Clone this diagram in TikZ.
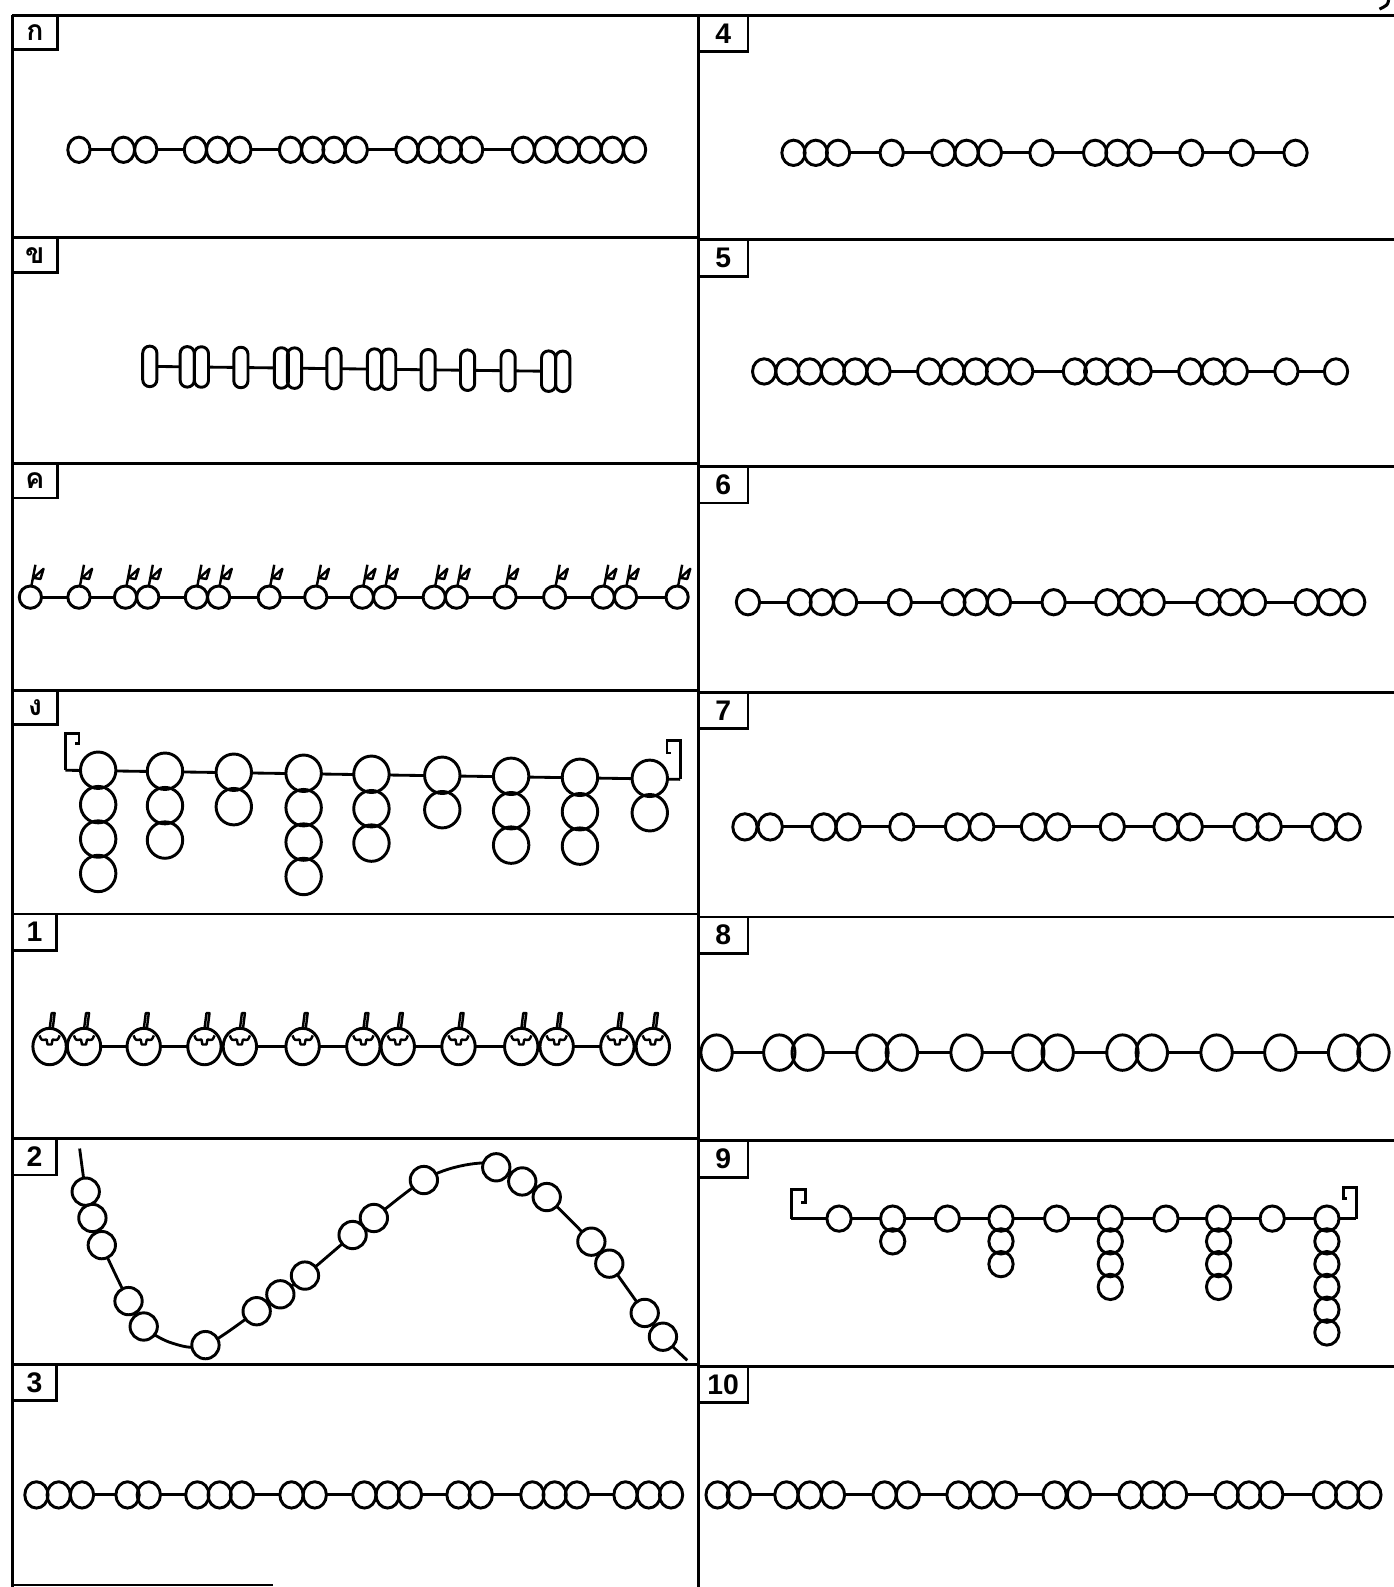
\documentclass[tikz,border=0pt]{standalone}
\usepackage{fontspec}
\setmainfont{Liberation Sans}
\newfontfamily\thaifont[Script=Thai]{Loma}
\newcommand\BeadRow[6]{%
  \draw[strng] (#4,#1) -- (#5,#1);
  \foreach \bx in {#6} {\fill[white] (\bx,#1) ellipse [x radius=#2, y radius=#3];}
  \foreach \bx in {#6} {\draw[beadline] (\bx,#1) ellipse [x radius=#2, y radius=#3];}
}
\begin{document}
\begin{tikzpicture}[x=0.5pt,y=-0.5pt,
  frame/.style={line width=1.4pt},
  strng/.style={line width=1.4pt},
  beadline/.style={line width=1.45pt},
  stemline/.style={line width=1.2pt, line join=round},
  numlab/.style={font=\bfseries\fontsize{14}{14}\selectfont, inner sep=0pt},
  thailab/.style={font=\thaifont\bfseries\fontsize{14}{14}\selectfont, inner sep=0pt}]
\useasboundingbox (0,0) rectangle (1377,1568);
% ---------- frame ----------
\draw[frame] (12,15) -- (1377,15);
\draw[frame] (12,15) -- (12,1568);
\draw[frame] (690,15) -- (690,1568);
\foreach \yy in {235,458,682,903,1125,1348} \draw[frame] (12,\yy) -- (690,\yy);
\foreach \yy in {237,461,684,906,1127,1350} \draw[frame] (690,\yy) -- (1377,\yy);
\draw[line width=0.8pt] (12,1566) -- (270,1566);
\draw[line width=1.5pt] (1372,0) .. controls (1371,5) .. (1363,9);
% ---------- labels ----------
\foreach \yy/\tx/\nm in {15/ก/a, 235/ข/b, 458/ค/c, 682/ง/d} {
  \draw[frame] (12,\yy+34) -- (57,\yy+34) -- (57,\yy);
  \node[thailab] (lab\nm) at (34.5,\yy+17) {\tx};
}
\foreach \yy/\tx in {903/1, 1125/2, 1348/3} {
  \draw[frame] (12,\yy+36) -- (56,\yy+36) -- (56,\yy);
  \node[numlab] (labn\tx) at (34,\yy+18) {\tx};
}
\foreach \yy/\tx in {15/4, 237/5, 461/6, 684/7, 906/8, 1127/9, 1350/10} {
  \draw[frame] (690,\yy+36) -- (739,\yy+36) -- (739,\yy);
  \node[numlab] (labn\tx) at (714.5,\yy+18) {\tx};
}
% ---------- simple bead rows ----------
\BeadRow{148}{11}{12.5}{78}{627}{78,122,144,193,215,237,287,309,330,352,402,424,445,466,517,539,561,583,605,627}
\BeadRow{151}{11.5}{12.5}{784}{1280}{784,806,828,881,932,955,978,1029,1082,1104,1126,1177,1227,1280}
\BeadRow{367}{11.5}{12.5}{755}{1320}{755,778,800,823,845,868,918,941,964,986,1009,1062,1083,1105,1126,1176,1199,1221,1271,1320}
\BeadRow{595}{11.5}{12.5}{739}{1337}{739,790,812,835,889,942,964,987,1041,1094,1117,1139,1194,1216,1239,1291,1314,1337}
\BeadRow{817}{12}{13}{736}{1332}{736,761,814,838,891,946,970,1021,1045,1099,1152,1176,1231,1254,1308,1332}
\BeadRow{1040}{15.5}{17.5}{708}{1357}{708,770,798,862,891,955,1016,1045,1109,1138,1202,1265,1328,1357}
\BeadRow{1477}{11.5}{13}{36}{663}{36,58,81,126,147,195,217,239,288,311,360,383,405,453,475,526,548,570,618,641,663}
\BeadRow{1477}{11.5}{13}{709}{1353}{709,730,777,800,823,874,897,947,970,993,1042,1066,1117,1139,1161,1212,1234,1256,1309,1331,1353}
% ---------- row kho: capsules ----------
\draw[strng] (148,362) -- (556,367);
\foreach \bx in {148,185,199,238,278,291,330,370,384,423,462,502,542,556} {
  \pgfmathsetmacro\cy{362+(\bx-148)*0.012}
  \fill[white, rounded corners=3.4pt] (\bx-7,\cy-20) rectangle (\bx+7,\cy+20);
}
\foreach \bx in {148,185,199,238,278,291,330,370,384,423,462,502,542,556} {
  \pgfmathsetmacro\cy{362+(\bx-148)*0.012}
  \draw[beadline, rounded corners=3.4pt] (\bx-7,\cy-20) rectangle (\bx+7,\cy+20);
}
% ---------- row kho-khwai: fruits with stem and leaf ----------
\draw[strng] (30,590) -- (669,590);
\foreach \bx in {30,78,124,146,194,216,266,312,358,380,429,451,499,548,596,618,669}
  {\fill[white] (\bx,590) circle [radius=11];}
\foreach \bx in {30,78,124,146,194,216,266,312,358,380,429,451,499,548,596,618,669} {
  \draw[beadline] (\bx,590) circle [radius=11];
  \draw[stemline] (\bx+1,579) -- (\bx+5,558);
  \draw[stemline] (\bx+3,571) -- (\bx+13,562) -- (\bx+10,572) -- cycle;
}
% ---------- row ngo: hanging strands ----------
\draw[strng] (64.5,761) -- (672,770);
\draw[strng] (64.5,761) -- (64.5,725) -- (78,725) -- (78,735) -- (74,735);
\draw[strng] (672,770) -- (672,732) -- (659,732) -- (659,744) -- (663,744);
\foreach \cx/\cy/\n in {97/761/4, 163/762/3, 231/763/2, 300/764/4, 367/765/3, 437/766/2, 505/767/3, 573/768/3, 642/769/2}
  \foreach \k in {1,...,\n} {\fill[white] (\cx,\cy+34*\k-34) ellipse [x radius=17.5, y radius=18];}
\foreach \cx/\cy/\n in {97/761/4, 163/762/3, 231/763/2, 300/764/4, 367/765/3, 437/766/2, 505/767/3, 573/768/3, 642/769/2}
  \foreach \k in {1,...,\n} {\draw[beadline] (\cx,\cy+34*\k-34) ellipse [x radius=17.5, y radius=18];}
% ---------- row 1: mangosteens ----------
\draw[strng] (49,1034) -- (645,1034);
\foreach \bx in {49,83,142,202,237,299,359,393,453,515,550,610,645}
  {\fill[white] (\bx,1034) ellipse [x radius=16.5, y radius=18];}
\foreach \bx in {49,83,142,202,237,299,359,393,453,515,550,610,645} {
  \draw[beadline] (\bx,1034) ellipse [x radius=16.5, y radius=18];
  \draw[stemline] (\bx,1017) -- (\bx+2,1001) -- (\bx+5,1001) -- (\bx+3,1017);
  \draw[stemline] (\bx-10,1023) .. controls (\bx-8,1028) .. (\bx-3,1027) -- (\bx-2,1032)
     -- (\bx+2,1032) -- (\bx+3,1027) .. controls (\bx+8,1028) .. (\bx+10,1023);
}
% ---------- row 2: wave ----------
\draw[strng] plot[smooth, tension=0.55] coordinates {(78.7,1134.8) (84.7,1177.4) (91.3,1203.4) (100.6,1230.2) (127,1285.5) (142,1310.6) (170,1327) (203,1329) (253.6,1295.5) (277,1278.8) (301.3,1260.3) (348.4,1220.2) (369.4,1203.4) (418.8,1165.9) (455,1152) (490.3,1150) (516,1167.3) (540.2,1182.7) (584.3,1226.8) (602,1248.5) (637,1297.2) (655,1320.7) (679,1344)};
\foreach \bx/\by in {84.7/1177.4, 91.3/1203.4, 100.6/1230.2, 127/1285.5, 142/1310.6, 203/1329, 253.6/1295.5, 277/1278.8, 301.3/1260.3, 348.4/1220.2, 369.4/1203.4, 418.8/1165.9, 490.3/1153.3, 516/1167.3, 540.2/1182.7, 584.3/1226.8, 602/1248.5, 637/1297.2, 655/1320.7}
  {\fill[white] (\bx,\by) circle [radius=13.5];}
\foreach \bx/\by in {84.7/1177.4, 91.3/1203.4, 100.6/1230.2, 127/1285.5, 142/1310.6, 203/1329, 253.6/1295.5, 277/1278.8, 301.3/1260.3, 348.4/1220.2, 369.4/1203.4, 418.8/1165.9, 490.3/1153.3, 516/1167.3, 540.2/1182.7, 584.3/1226.8, 602/1248.5, 637/1297.2, 655/1320.7}
  {\draw[beadline] (\bx,\by) circle [radius=13.5];}
% ---------- row 9: strands ----------
\draw[strng] (782,1204) -- (1340,1204);
\draw[strng] (782,1204) -- (782,1175) -- (796,1175) -- (796,1188) -- (791,1188);
\draw[strng] (1340,1204) -- (1340,1173) -- (1327,1173) -- (1327,1184) -- (1331,1184);
\foreach \cx/\n in {829/1, 882/2, 936/1, 989/3, 1044/1, 1097/4, 1152/1, 1204/4, 1257/1, 1311/6}
  \foreach \k in {1,...,\n} {\fill[white] (\cx,1204+22.5*\k-22.5) ellipse [x radius=12, y radius=12.5];}
\foreach \cx/\n in {829/1, 882/2, 936/1, 989/3, 1044/1, 1097/4, 1152/1, 1204/4, 1257/1, 1311/6}
  \foreach \k in {1,...,\n} {\draw[beadline] (\cx,1204+22.5*\k-22.5) ellipse [x radius=12, y radius=12.5];}
\end{tikzpicture}
\end{document}
